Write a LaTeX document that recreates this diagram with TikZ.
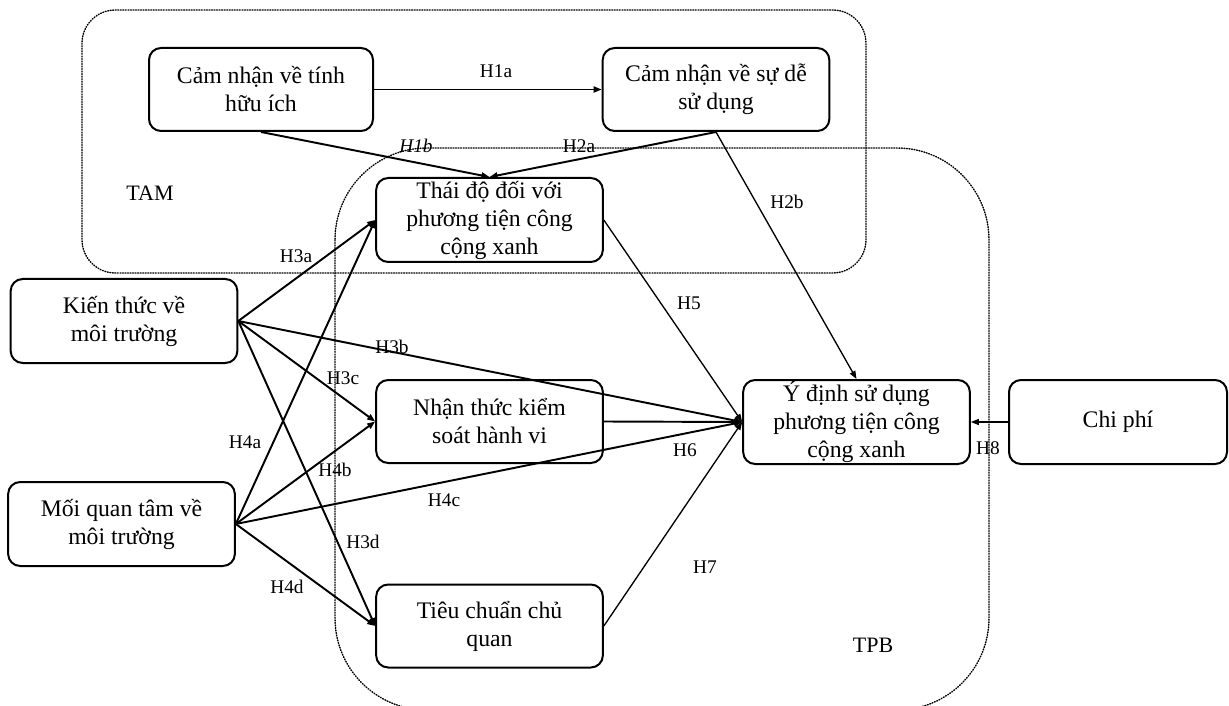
\documentclass[tikz,border=0pt]{standalone}
\usepackage{fontspec}
\setmainfont{Liberation Serif}
\usetikzlibrary{arrows.meta}
\begin{document}
\begin{tikzpicture}[x=0.75pt,y=-0.75pt,
  box/.style={draw, line width=1.5pt, rounded corners=9pt, fill=white,
    minimum width=170pt, minimum height=62.25pt, inner sep=0pt, align=center,
    font=\fontsize{17.8}{21}\selectfont},
  lbl/.style={font=\fontsize{14.5}{16}\selectfont, inner sep=0pt},
  grplbl/.style={font=\fontsize{16.5}{19}\selectfont, inner sep=0pt},
  grp/.style={draw, line width=1.1pt, dash pattern=on 0.6pt off 1.3pt, line cap=round},
  link/.style={line width=1.45pt, -{Triangle[length=6pt,width=4.5pt]}},
  thinlink/.style={line width=1pt, -{Triangle[length=6pt,width=4.5pt]}}
]
\useasboundingbox (0,0) rectangle (1229,706);

% model groups
\draw[grp, rounded corners=25pt] (82,10) rectangle (866,273);
\draw[grp, rounded corners=69pt] (335,148) rectangle (989,710);
\node[grplbl] (tam) at (150,193) {TAM};
\node[grplbl] (tpb) at (873,645) {TPB};

% constructs
\node[box, minimum width=168pt] (A) at (261,89.5) {Cảm nhận về tính\\hữu ích};
\node[box] (B) at (716,89.5) {Cảm nhận về sự dễ\\sử dụng};
\node[box, minimum height=63pt] (C) at (489.5,220) {Thái độ đối với\\phương tiện công\\cộng xanh};
\node[box, minimum height=63pt] (D) at (124,321) {Kiến thức về\\môi trường};
\node[box] (E) at (489.5,421.5) {Nhận thức kiểm\\soát hành vi};
\node[box, minimum height=63pt] (F) at (121.5,524) {Mối quan tâm về\\môi trường};
\node[box] (G) at (489.5,626) {Tiêu chuẩn chủ\\quan};
\node[box, minimum height=63pt] (H) at (856.5,422) {Ý định sử dụng\\phương tiện công\\cộng xanh};
\node[box, minimum width=163.5pt, minimum height=63pt] (I) at (1118,422) {Chi phí};

% hypotheses
\draw[link] (A.east) -- (B.west);
\draw[link] (A.south) -- (C.north);
\draw[link] (B.south) -- (C.north);
\draw[thinlink] (B.south) -- (H.north);
\draw[thinlink] (C.east) -- (H.west);
\draw[link] (D.east) -- (C.west);
\draw[link] (D.east) -- (H.west);
\draw[link] (D.east) -- (E.west);
\draw[link] (D.east) -- (G.west);
\draw[link] (E.east) -- (H.west);
\draw[link] (F.east) -- (C.west);
\draw[link] (F.east) -- (E.west);
\draw[link] (F.east) -- (H.west);
\draw[link] (F.east) -- (G.west);
\draw[thinlink] (G.east) -- (H.west);
\draw[thinlink] (I.west) -- (H.east);

% hypothesis labels
\node[lbl] (h1a) at (496,71) {H1a};
\node[lbl, font=\fontsize{14.5}{16}\selectfont\itshape] (h1b) at (416,146) {H1b};
\node[lbl] (h2a) at (579,146) {H2a};
\node[lbl] (h2b) at (787,202) {H2b};
\node[lbl] (h3a) at (296,256) {H3a};
\node[lbl] (h3b) at (392,347) {H3b};
\node[lbl] (h3c) at (343,378) {H3c};
\node[lbl] (h4a) at (245,442) {H4a};
\node[lbl] (h4b) at (335,470) {H4b};
\node[lbl] (h4c) at (444,500) {H4c};
\node[lbl] (h3d) at (363,542) {H3d};
\node[lbl] (h4d) at (287,587) {H4d};
\node[lbl] (h5) at (689,303) {H5};
\node[lbl] (h6) at (685,450) {H6};
\node[lbl] (h7) at (705,567) {H7};
\node[lbl] (h8) at (988,448) {H8};
\end{tikzpicture}
\end{document}
